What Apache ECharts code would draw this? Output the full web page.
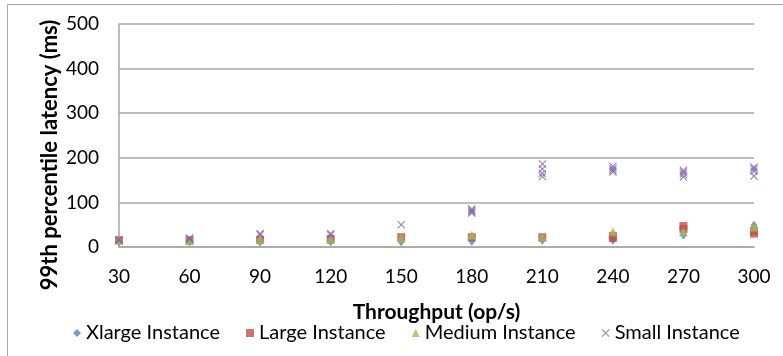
<!DOCTYPE html>
<html><head><meta charset="utf-8">
<script src="https://cdn.jsdelivr.net/npm/echarts@6/dist/echarts.min.js"></script>
<style>html,body{margin:0;padding:0;background:#fff}#c{width:783px;height:356px}</style>
</head><body><div id="c"></div>
<script>
// Throughput categories (op/s)
const throughput = [30, 60, 90, 120, 150, 180, 210, 240, 270, 300];
// 99th percentile latency (ms), several runs per throughput level
const xlargeVals = [[12],[12],[11],[12],[12],[13],[15],[15],[27],[49]];
const largeVals  = [[15],[15],[16],[18],[22],[22],[22],[20,25],[40,47],[30,36]];
const mediumVals = [[15],[14],[16],[17],[20],[27],[22],[34],[34],[45]];
const smallVals  = [[15,17],[18,20],[27,30],[27,30],[50],[76,79,82,85],[158,165,175,186],[168,172,176,181],[157,163,168,172],[159,170,175,179]];
const yTicks = [0, 100, 200, 300, 400, 500];
const seriesNames = ['Xlarge Instance', 'Large Instance', 'Medium Instance', 'Small Instance'];
const yTitle = '99th percentile latency (ms)';
const xTitle = 'Throughput (op/s)';

function pairs(vals) {
  const out = [];
  throughput.forEach((t, i) => vals[i].forEach(v => out.push([t, v])));
  return out;
}
const X_PATH = 'path://M0,1 L1,0 L5,4 L9,0 L10,1 L6,5 L10,9 L9,10 L5,6 L1,10 L0,9 L4,5 Z';
const FONT = 'Lato';
const chart = echarts.init(document.getElementById('c'), null, {renderer: 'canvas'});
chart.setOption({
  animation: false,
  backgroundColor: '#fff',
  graphic: [
    {type: 'rect', shape: {x: 7.5, y: 4.5, width: 800, height: 400}, style: {fill: 'none', stroke: '#A6A6A6', lineWidth: 1}, z: -1},
    {type: 'text', x: 50, y: 155, rotation: Math.PI / 2,
     style: {text: yTitle, fontFamily: FONT, fontSize: 22, fontWeight: 'bold', fill: '#000', align: 'center', verticalAlign: 'middle'}}
  ],
  grid: {left: 119, right: 29, top: 24, bottom: 109, containLabel: false},
  legend: {
    data: seriesNames, bottom: 8, left: 68, itemWidth: 8, itemHeight: 8, itemGap: 26,
    textStyle: {fontFamily: FONT, fontSize: 20, color: '#000'}
  },
  xAxis: {
    type: 'value', min: 30, max: 300, interval: 30,
    name: xTitle, nameLocation: 'middle', nameGap: 55, nameMoveOverlap: false,
    nameTextStyle: {fontFamily: FONT, fontSize: 21, fontWeight: 'bold', color: '#000'},
    axisLine: {lineStyle: {color: '#A6A6A6', width: 1.5}},
    axisTick: {show: false},
    axisLabel: {fontFamily: FONT, fontSize: 19, color: '#000', margin: 20},
    splitLine: {show: false}
  },
  yAxis: {
    type: 'value', min: yTicks[0], max: yTicks[yTicks.length - 1], interval: 100,
    axisLine: {show: true, lineStyle: {color: '#A6A6A6', width: 1.5}},
    axisTick: {show: false},
    axisLabel: {fontFamily: FONT, fontSize: 19, color: '#000', margin: 20},
    splitLine: {lineStyle: {color: '#A6A6A6', width: 1.5}}
  },
  series: [
    {name: seriesNames[0], type: 'scatter', data: pairs(xlargeVals), symbol: 'diamond', symbolSize: [7, 9], itemStyle: {color: '#4F81BD'}},
    {name: seriesNames[1], type: 'scatter', data: pairs(largeVals), symbol: 'rect', symbolSize: 8, itemStyle: {color: '#C0504D'}},
    {name: seriesNames[2], type: 'scatter', data: pairs(mediumVals), symbol: 'triangle', symbolSize: 9, itemStyle: {color: '#9BBB59'}},
    {name: seriesNames[3], type: 'scatter', data: pairs(smallVals), symbol: X_PATH, symbolSize: 8, itemStyle: {color: '#8064A2'}}
  ]
});
</script></body></html>
